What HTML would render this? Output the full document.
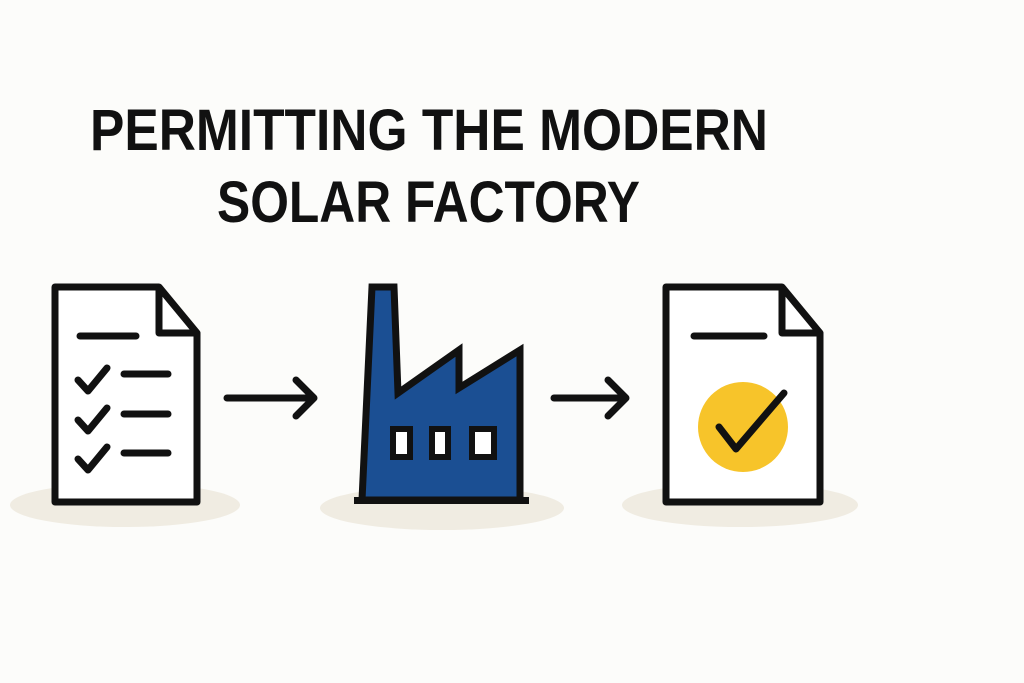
<!DOCTYPE html>
<html><head><meta charset="utf-8"><style>
html,body{margin:0;padding:0;background:#fcfcfa;}
svg{display:block}
</style></head><body>
<svg width="1024" height="683" viewBox="0 0 1024 683" xmlns="http://www.w3.org/2000/svg">
<rect width="1024" height="683" fill="#fcfcfa"/>
<g font-family="Liberation Sans, sans-serif" font-weight="bold" fill="#111">
<text x="90" y="150" font-size="58" textLength="678" lengthAdjust="spacingAndGlyphs">PERMITTING THE MODERN</text>
<text x="217" y="222" font-size="58" textLength="423" lengthAdjust="spacingAndGlyphs">SOLAR FACTORY</text>
</g>
<g fill="#f0ece2">
<ellipse cx="125" cy="505" rx="115" ry="22"/>
<ellipse cx="442" cy="508" rx="122" ry="22"/>
<ellipse cx="740" cy="505" rx="118" ry="22"/>
</g>
<g stroke="#111" stroke-width="7" stroke-linecap="round" stroke-linejoin="round" fill="none">
<!-- doc1 -->
<path d="M55 287 H159 L197 333 V502 H55 Z" fill="#fff"/>
<path d="M159 290 V333 H195"/>
<path d="M80 336 H136"/>
<path d="M78 380 L88 391 L107 368 M78 420 L88 431 L107 408 M78 459 L88 470 L107 447"/>
<path d="M124 374 H168 M124 414 H168 M124 453 H168"/>
<!-- arrow1 -->
<path d="M227 398 H314 M296 380 L314 398 L296 416"/>
<!-- arrow2 -->
<path d="M554 398 H626 M608 380 L626 398 L608 416"/>
<!-- doc2 -->
<path d="M666 287 H782 L820 333 V502 H666 Z" fill="#fff"/>
</g>
<!-- factory -->
<path d="M372 287 H394 L398 393 L459 350 V388 L520 350 V500 H362 Z" fill="#1b4f93" stroke="#111" stroke-width="7" stroke-linejoin="miter"/>
<rect x="354" y="497" width="175" height="7" fill="#111"/>
<g fill="#fff" stroke="#111" stroke-width="6">
<rect x="393" y="429" width="17" height="28"/>
<rect x="432" y="429" width="16" height="28"/>
<rect x="472" y="429" width="22" height="28"/>
</g>
<!-- doc2 content -->
<circle cx="743" cy="427" r="45" fill="#f7c42a"/>
<g stroke="#111" stroke-width="7" stroke-linecap="round" stroke-linejoin="round" fill="none">
<path d="M782 290 V333 H818"/>
<path d="M694 336 H764"/>
<path d="M719 427 L736 449 L784 393"/>
</g>
</svg>
</body></html>
